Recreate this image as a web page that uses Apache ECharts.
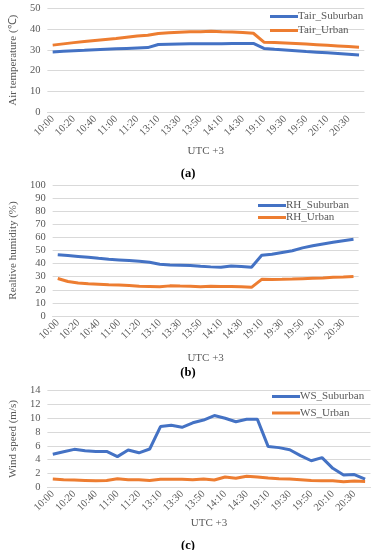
<!DOCTYPE html>
<html><head><meta charset="utf-8">
<script src="https://cdn.jsdelivr.net/npm/echarts@6/dist/echarts.min.js"></script>
<style>html,body{margin:0;padding:0;background:#fff}#c{width:376px;height:550px}</style>
</head><body><div id="c"></div>
<script>
const times = ['10:00','10:10','10:20','10:30','10:40','10:50','11:00','11:10','11:20','11:30',
  '13:10','13:20','13:30','13:40','13:50','14:00','14:10','14:20','14:30','14:40',
  '19:10','19:20','19:30','19:40','19:50','20:00','20:10','20:20','20:30','20:40'];
const tairSuburban = [29.0,29.3,29.6,29.8,30.1,30.3,30.5,30.7,30.9,31.1,32.6,32.7,32.8,32.9,33.0,33.0,33.0,33.1,33.1,33.1,30.7,30.3,30.0,29.6,29.2,28.9,28.6,28.3,27.9,27.5];
const tairUrban = [32.3,32.9,33.5,34.0,34.5,35.0,35.5,36.1,36.7,37.0,37.9,38.2,38.5,38.7,38.7,39.0,38.7,38.6,38.4,38.0,33.7,33.5,33.3,33.1,32.8,32.5,32.2,31.9,31.6,31.3];
const rhSuburban = [46.8,46.2,45.5,44.8,44.0,43.3,42.8,42.3,41.8,41.0,39.5,39.0,38.8,38.6,38.0,37.5,37.3,38.2,37.8,37.2,46.4,47.2,48.5,49.8,52.0,53.6,55.0,56.3,57.5,58.6];
const rhUrban = [28.6,26.3,25.2,24.7,24.3,23.9,23.6,23.2,22.7,22.6,22.3,23.0,22.9,22.8,22.4,22.8,22.6,22.6,22.3,21.9,28.0,27.9,28.0,28.2,28.5,28.8,29.1,29.5,29.8,30.2];
const wsSuburban = [4.8,5.15,5.5,5.3,5.2,5.2,4.45,5.4,5.0,5.55,8.8,9.0,8.7,9.35,9.75,10.4,10.0,9.5,9.85,9.85,5.9,5.75,5.45,4.6,3.85,4.3,2.75,1.78,1.85,1.2];
const wsUrban = [1.2,1.1,1.05,1.0,0.95,1.0,1.25,1.1,1.1,1.0,1.15,1.15,1.15,1.1,1.2,1.05,1.5,1.3,1.6,1.5,1.35,1.25,1.2,1.1,1.0,0.95,0.95,0.8,0.9,0.85];
const yTicksA = {min:0,max:50,interval:10};
const yTicksB = {min:0,max:100,interval:10};
const yTicksC = {min:0,max:14,interval:2};

const FONT = '"Liberation Serif","Times New Roman",serif';
const GRAY = '#595959';
const GRID = '#d9d9d9';
const BLUE = '#4472C4', ORANGE = '#ED7D31';

function xAxis(gi, gap){
  return {type:'category', gridIndex:gi, data:times, boundaryGap:true,
    axisLine:{show:true,lineStyle:{color:GRID,width:1}}, axisTick:{show:false},
    axisLabel:{rotate:45, interval:1, color:GRAY, fontFamily:FONT, fontSize:10.5, margin:5},
    name:'UTC +3', nameLocation:'middle', nameGap:gap,
    nameTextStyle:{color:GRAY, fontFamily:FONT, fontSize:11}};
}
function yAxis(gi, t, name, gap){
  return {type:'value', gridIndex:gi, min:t.min, max:t.max, interval:t.interval,
    axisLine:{show:false}, axisTick:{show:false},
    splitLine:{lineStyle:{color:GRID,width:1}},
    axisLabel:{color:GRAY, fontFamily:FONT, fontSize:10.5, margin:7},
    name:name, nameLocation:'middle', nameGap:gap,
    nameTextStyle:{color:GRAY, fontFamily:FONT, fontSize:11}};
}
function line(name, gi, data, color){
  return {type:'line', name:name, xAxisIndex:gi, yAxisIndex:gi, data:data,
    symbol:'none', lineStyle:{color:color,width:3}, itemStyle:{color:color}, silent:true};
}
function legend(names, left, top, gap){
  return {data:names, orient:'vertical', left:left, top:top, itemWidth:28, itemHeight:3, itemGap:gap,
    icon:'rect', padding:0,
    textStyle:{color:GRAY, fontFamily:FONT, fontSize:11, padding:[0,0,0,-5]}};
}
const chart = echarts.init(document.getElementById('c'), null, {renderer:'canvas'});
const capStyle = {fontFamily:FONT, fontSize:12.5, color:'#000'};
chart.setOption({
  animation:false,
  grid:[
    {left:46.4, top:8.3, width:317.9, height:104},
    {left:42, top:185, width:316.6, height:131},
    {left:41.8, top:390.7, width:328.7, height:96.6}
  ],
  xAxis:[xAxis(0,33), xAxis(1,37), xAxis(2,30)],
  yAxis:[yAxis(0,yTicksA,'Air temperature (\u2103)',22), yAxis(1,yTicksB,'Realtive humidity (%)',26), yAxis(2,yTicksC,'Wind speed (m/s)',24)],
  legend:[
    legend(['Tair_Suburban','Tair_Urban'], 270, 11, 3),
    legend(['RH_Suburban','RH_Urban'], 258, 200, 1),
    legend(['WS_Suburban','WS_Urban'], 272, 391, 5.5)
  ],
  title:[
    {text:'({b|a})', left:'center', top:162, textStyle:{...capStyle, rich:{b:{...capStyle, fontWeight:'bold'}}}},
    {text:'({b|b})', left:'center', top:361, textStyle:{...capStyle, rich:{b:{...capStyle, fontWeight:'bold'}}}},
    {text:'({b|c})', left:'center', top:534, textStyle:{...capStyle, rich:{b:{...capStyle, fontWeight:'bold'}}}}
  ],
  series:[
    line('Tair_Suburban',0,tairSuburban,BLUE), line('Tair_Urban',0,tairUrban,ORANGE),
    line('RH_Suburban',1,rhSuburban,BLUE), line('RH_Urban',1,rhUrban,ORANGE),
    line('WS_Suburban',2,wsSuburban,BLUE), line('WS_Urban',2,wsUrban,ORANGE)
  ]
});
</script></body></html>
